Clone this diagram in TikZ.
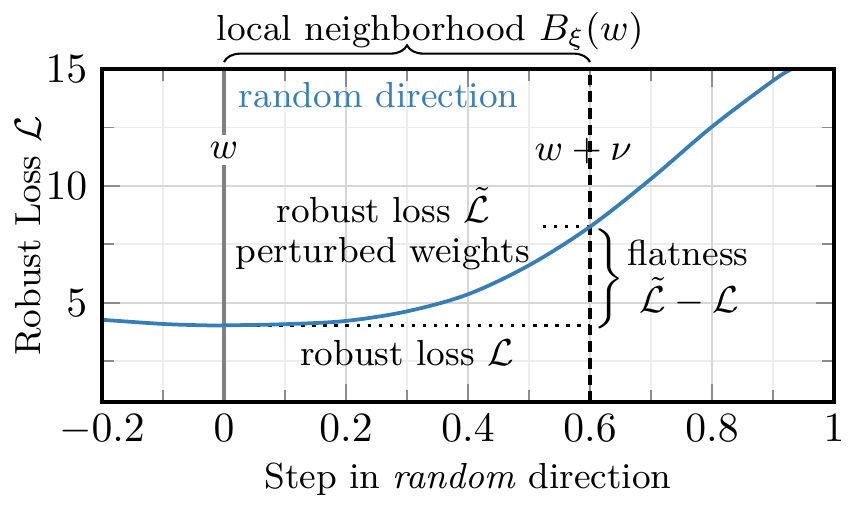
\documentclass[tikz,border=0pt]{standalone}
\usetikzlibrary{decorations.pathreplacing}
\definecolor{curveblue}{RGB}{55,126,184}
\tikzset{
  lab/.style={font=\fontsize{8.7}{10.5}\selectfont, inner sep=0pt},
  ticklab/.style={font=\normalsize},
  majorgrid/.style={black!16, line width=0.4pt},
  minorgrid/.style={black!7, line width=0.4pt},
  tickmark/.style={black!45, line width=0.4pt},
  axisbox/.style={black, line width=0.8pt},
  lossline/.style={curveblue, line width=0.9pt},
  refline/.style={black!50, line width=0.8pt},
  pertline/.style={black, line width=0.8pt, dash pattern=on 2.6pt off 1.4pt},
  dotline/.style={black, line width=0.8pt, dash pattern=on 0.8pt off 1.85pt},
}
\begin{document}
\begin{tikzpicture}[x=146.4pt, y=5.6088pt]
\useasboundingbox (-0.367213,-3.8276) rectangle (1.037705,17.9525);
% grid
\foreach \x in {-0.1,0.1,0.3,0.5,0.7,0.9} \draw[minorgrid] (\x,0.75) -- (\x,15);
\foreach \y in {2.5,7.5,12.5} \draw[minorgrid] (-0.2,\y) -- (1,\y);
\foreach \x in {0,0.2,0.4,0.6,0.8} \draw[majorgrid] (\x,0.75) -- (\x,15);
\foreach \y in {5,10} \draw[majorgrid] (-0.2,\y) -- (1,\y);
% ticks
\foreach \x in {0,0.2,0.4,0.6,0.8} {
  \draw[tickmark] (\x,0.75) -- ++(0,4.25pt);
  \draw[tickmark] (\x,15) -- ++(0,-4.25pt);
}
\foreach \x in {-0.1,0.1,0.3,0.5,0.7,0.9} {
  \draw[tickmark] (\x,0.75) -- ++(0,2.8pt);
  \draw[tickmark] (\x,15) -- ++(0,-2.8pt);
}
\foreach \y in {5,10} {
  \draw[tickmark] (-0.2,\y) -- ++(4.25pt,0);
  \draw[tickmark] (1,\y) -- ++(-4.25pt,0);
}
\foreach \y in {2.5,7.5,12.5} {
  \draw[tickmark] (-0.2,\y) -- ++(2.8pt,0);
  \draw[tickmark] (1,\y) -- ++(-2.8pt,0);
}
% reference lines
\coordinate (w0b) at (0,0.75);
\coordinate (w0t) at (0,15);
\coordinate (w1b) at (0.6,0.75);
\coordinate (w1t) at (0.6,15);
\draw[refline] (w0b) -- (w0t);
\draw[pertline] (w1b) -- (w1t);
\coordinate (lossA) at (0,4.03);
\coordinate (lossB) at (0.6,4.03);
\coordinate (plossA) at (0.523,8.25);
\coordinate (plossB) at (0.6,8.25);
\draw[dotline] (lossA) -- (lossB);
\draw[dotline] (plossA) -- (plossB);
% curve
\draw[lossline] plot[smooth, tension=0.55] coordinates {
  (-0.2,4.27) (-0.1,4.09) (-0.03,4.03) (0,4.03) (0.1,4.08) (0.2,4.22)
  (0.3,4.63) (0.4,5.36) (0.5,6.6) (0.6,8.25) (0.7,10.3) (0.8,12.53)
  (0.9,14.5) (0.9306,15)};
% axis box
\draw[axisbox] (-0.2,0.75) rectangle (1,15);
% tick labels
\foreach \x/\t/\n in {-0.2/$-0.2$/a,0/$0$/b,0.2/$0.2$/c,0.4/$0.4$/d,0.6/$0.6$/e,0.8/$0.8$/f,1/$1$/g}
  \node[ticklab, anchor=base] (xt\n) at (\x,-0.96) {\t};
\foreach \y/\n in {5/a,10/b,15/c}
  \node[ticklab, anchor=east] (yt\n) at (-0.2,\y) {$\y$};
% axis labels
\node[lab, rotate=90] (ylab) at (-0.321,7.85) {Robust Loss $\mathcal{L}$};
\node[lab, anchor=base] (xlab) at (0.4,-2.93) {Step in \emph{random} direction};
% top brace
\coordinate (brl) at (0,15.3);
\coordinate (brr) at (0.6,15.3);
\draw[line width=0.5pt, decorate, decoration={brace, amplitude=4pt}] (brl) -- (brr);
\node[lab, anchor=base] (toplab) at (0.338,16.2) {local neighborhood $B_\xi(w)$};
% annotations
\node[lab, anchor=base west, text=curveblue] (rd) at (0.023,13.37) {random direction};
\node[lab, anchor=base, fill=white, inner sep=1.6pt] (wlab) at (0,11.19) {$w$};
\node[lab, anchor=base] (wnu) at (0.589,11.1) {$w+\nu$};
\node[lab, anchor=base] (pl1) at (0.261,8.45) {robust loss $\tilde{\mathcal{L}}$};
\node[lab, anchor=base] (pl2) at (0.260,6.74) {perturbed weights};
\node[lab, anchor=base] (rl) at (0.300,2.33) {robust loss $\mathcal{L}$};
\node[inner sep=0pt] (rb) at (0.627,6.0)
  {$\left.\vrule height 13.5pt depth 8.5pt width 0pt\right\}$};
\node[lab, anchor=base] (fl1) at (0.761,6.61) {flatness};
\node[lab, anchor=base] (fl2) at (0.763,4.6) {$\tilde{\mathcal{L}}-\mathcal{L}$};
\end{tikzpicture}
\end{document}
